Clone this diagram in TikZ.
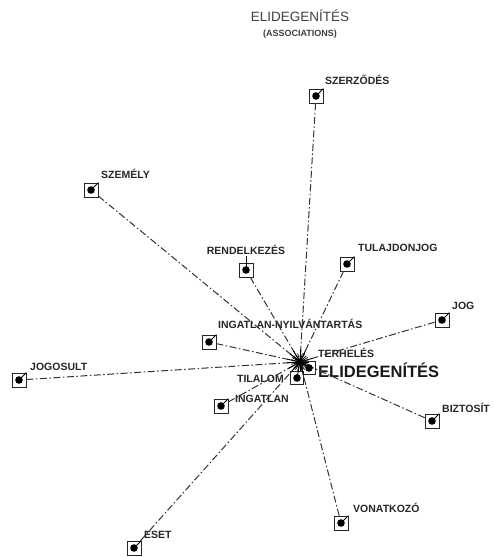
\documentclass[tikz,border=0pt]{standalone}
\usepackage{fontspec}
\setmainfont{Liberation Sans}
\usetikzlibrary{calc}
\begin{document}
\begin{tikzpicture}[x=1pt,y=-1pt,
  term/.style={draw=black!85,line width=0.8pt,fill=white,minimum size=14pt,inner sep=0pt},
  hubterm/.style={term,minimum size=13pt},
  lbl/.style={font=\bfseries\fontsize{10.5}{12}\selectfont,text=black!85,inner sep=0pt},
  biglbl/.style={font=\bfseries\fontsize{16.5}{18}\selectfont,text=black!90,inner sep=0pt},
  assoc/.style={draw=black!80,line width=1pt,dash pattern=on 7pt off 2.5pt on 1.5pt off 2.5pt},
  spike/.style={draw=black,line width=0.9pt},
  leader/.style={draw=black,line width=0.8pt},
  dotr/.store in=\dotr, dotr=3.8pt]
\useasboundingbox (0,0) rectangle (494,557);

% title
\node[font=\fontsize{13.5}{15}\selectfont,text=black!75,anchor=base,inner sep=0pt] (title) at (300,21) {ELIDEGENÍTÉS};
\node[font=\bfseries\fontsize{9}{10}\selectfont,text=black!75,anchor=base,inner sep=0pt] (subtitle) at (300,36) {(ASSOCIATIONS)};

% point where all associations meet
\coordinate (hub) at (300,362);

% associated terms
\node[term] (szerzodes)   at (316,96)  {};
\node[term] (szemely)     at (91,190)  {};
\node[term] (rendelkezes) at (246,270) {};
\node[term] (tulajdonjog) at (347,264) {};
\node[term] (jog)         at (442,320) {};
\node[term] (nyilv)       at (209,342) {};
\node[term] (jogosult)    at (19,380)  {};
\node[term] (ingatlan)    at (221,406) {};
\node[term] (eset)        at (134,548) {};
\node[term] (vonatkozo)   at (341,523) {};
\node[term] (biztosit)    at (432,421) {};
\node[hubterm] (center)   at (309,368) {};
\node[hubterm] (tilalom)  at (297,378) {};

% labels
\node[lbl,anchor=base west] (szerzodes-l)   at (325,84)  {SZERZŐDÉS};
\node[lbl,anchor=base west] (szemely-l)     at (101,178) {SZEMÉLY};
\node[lbl,anchor=base]      (rendelkezes-l) at (246,254) {RENDELKEZÉS};
\node[lbl,anchor=base west] (tulajdonjog-l) at (358,251) {TULAJDONJOG};
\node[lbl,anchor=base west] (jog-l)         at (452,309) {JOG};
\node[lbl,anchor=base west] (nyilv-l)       at (218,328) {INGATLAN-NYILVÁNTARTÁS};
\node[lbl,anchor=base west] (terheles-l)    at (318,357) {TERHELÉS};
\node[biglbl,anchor=base west] (center-l)   at (318,377) {ELIDEGENÍTÉS};
\node[lbl,anchor=base east] (tilalom-l)     at (284,382) {TILALOM};
\node[lbl,anchor=base west] (ingatlan-l)    at (235,402) {INGATLAN};
\node[lbl,anchor=base west] (jogosult-l)    at (30,370)  {JOGOSULT};
\node[lbl,anchor=base west] (biztosit-l)    at (442,412) {BIZTOSÍT};
\node[lbl,anchor=base west] (vonatkozo-l)   at (353,512) {VONATKOZÓ};
\node[lbl,anchor=base west] (eset-l)        at (144,538) {ESET};

% association lines, solid where they meet
\foreach \n in {szerzodes,szemely,rendelkezes,tulajdonjog,jog,nyilv,jogosult,ingatlan,eset,vonatkozo,biztosit} {
  \draw[assoc] (\n) -- (hub);
  \draw[spike] (hub) -- ($(hub)!13pt!(\n)$);
  \fill (\n.center) circle (\dotr);
}
% leaders from dots to their labels
\foreach \n in {szerzodes,szemely,tulajdonjog,jog,nyilv,jogosult,ingatlan,eset,vonatkozo,biztosit} {
  \draw[leader] (\n.center) -- (\n.north east);
}
\draw[leader] (rendelkezes.center) -- ($(rendelkezes-l.south)+(0,2)$);

% the two terms right at the meeting point
\draw[spike] (hub) -- (center.center);
\draw[spike] (hub) -- (tilalom.center);
\fill (center.center) circle (\dotr);
\fill (tilalom.center) circle (\dotr);
\foreach \a in {0,15,...,345} {
  \draw[spike,line width=0.7pt] (hub) -- ++(\a:9pt);
}
\fill (hub) circle (2.5pt);
\end{tikzpicture}
\end{document}
